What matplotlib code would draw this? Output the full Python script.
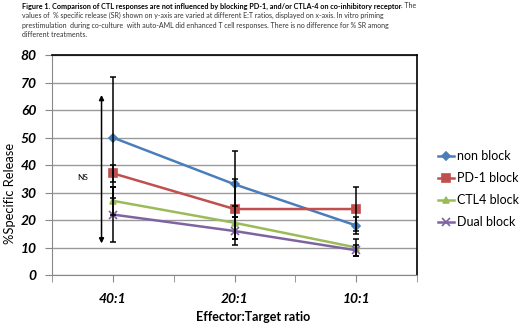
import matplotlib
matplotlib.use('Agg')
import matplotlib.pyplot as plt

plt.rcParams['font.family'] = ['Lato', 'DejaVu Sans']

ratios = ['40:1', '20:1', '10:1']
series = ['non block', 'PD-1 block', 'CTL4 block', 'Dual block']
non_block = [50, 33, 18]
pd1_block = [37, 24, 24]
ctl4_block = [27, 19, 10]
dual_block = [22, 16, 9]
non_block_err = [22, 12, 3]
pd1_block_err = [3, 11, 8]
ctl4_block_err = [5, 6, 3]
dual_block_err = [10, 5, 2]

colors = ['#4A7EBB', '#C0504D', '#9BBB59', '#7F63A1']
markers = ['D', 's', '^', 'x']
msizes = [4, 6, 5, 6]

fig = plt.figure(figsize=(5.2, 3.26), dpi=100)
ax = fig.add_axes([0.1, 0.1564, 0.702, 0.6746])

x = list(range(len(ratios)))
values = [non_block, pd1_block, ctl4_block, dual_block]
errors = [non_block_err, pd1_block_err, ctl4_block_err, dual_block_err]

for vals, errs, c, m, ms, name in zip(values, errors, colors, markers, msizes, series):
    ax.plot(x, vals, color=c, marker=m, markersize=ms, lw=1.8, label=name, zorder=3,
            markeredgewidth=1.2)
    ax.errorbar(x, vals, yerr=errs, fmt='none', ecolor='black', elinewidth=1.1,
                capsize=2.5, capthick=1.1, zorder=4)

# NS double arrow
ax.annotate('', xy=(-0.093, 11.5), xytext=(-0.093, 65.5),
            arrowprops=dict(arrowstyle='<|-|>', color='black', lw=1.1,
                            mutation_scale=7, shrinkA=0, shrinkB=0), zorder=5)
ax.text(-0.25, 35.5, 'NS', fontsize=6, ha='center', va='center')

ax.set_xlim(-0.5, 2.5)
ax.set_ylim(0, 80)
ax.set_yticks(range(0, 81, 10))
ax.set_xticks(x)
ax.set_xticks([-0.5, 0.5, 1.5, 2.5], minor=True)
ax.set_xticklabels(ratios, fontsize=10, fontweight='bold', fontstyle='italic')
for lab in ax.get_yticklabels():
    lab.set_fontsize(10)
    lab.set_fontweight('bold')
    lab.set_fontstyle('italic')
ax.tick_params(axis='y', length=5, color='#888888', pad=6)
ax.tick_params(axis='x', which='both', length=5, color='#888888', pad=8)
ax.yaxis.grid(True, color='#9a9a9a', lw=1.0)
ax.set_axisbelow(True)

ax.spines['left'].set_color('#888888')
ax.spines['bottom'].set_color('#888888')
ax.spines['top'].set_color('black')
ax.spines['right'].set_color('black')
ax.spines['top'].set_linewidth(1.2)
ax.spines['right'].set_linewidth(1.2)

fig.text(10 / 520, 1 - 193 / 326, '%Specific Release', fontsize=9.3, rotation=90,
         ha='center', va='center')
fig.text(253 / 520, 1 - 317 / 326, 'Effector:Target ratio', fontsize=9,
         fontweight='bold', ha='center', va='center')

ax.legend(loc='center left', bbox_to_anchor=(1.04, 0.39), frameon=False, fontsize=9,
          handlelength=1.3, handletextpad=0.2, labelspacing=0.8, borderpad=0)

# caption
y0 = 1 - 6 / 326
t1 = fig.text(22 / 520, y0, 'Figure 1. Comparison of CTL responses are not influenced by blocking PD-1, and/or CTLA-4 on co-inhibitory receptor',
              fontsize=5.0, fontweight='bold', va='center', ha='left')
fig.canvas.draw()
w = t1.get_window_extent().width
t1.set_fontsize(5.0 * 381 / w)
fig.canvas.draw()
bb = t1.get_window_extent().transformed(fig.transFigure.inverted())
fig.text(bb.x1, y0, '. The', fontsize=5.0, va='center', ha='left', color='#333333')
lines = [
    'values of  % specific release (SR) shown on y-axis are varied at different E:T ratios, displayed on x-axis. In vitro priming',
    'prestimulation  during co-culture  with auto-AML did enhanced T cell responses. There is no difference for % SR among',
    'different treatments.',
]
for i, line in enumerate(lines):
    fig.text(22 / 520, 1 - (15.7 + 9.5 * i) / 326, line, fontsize=5.0, va='center', ha='left',
             color='#333333')

fig.savefig('out.png', dpi=100)
